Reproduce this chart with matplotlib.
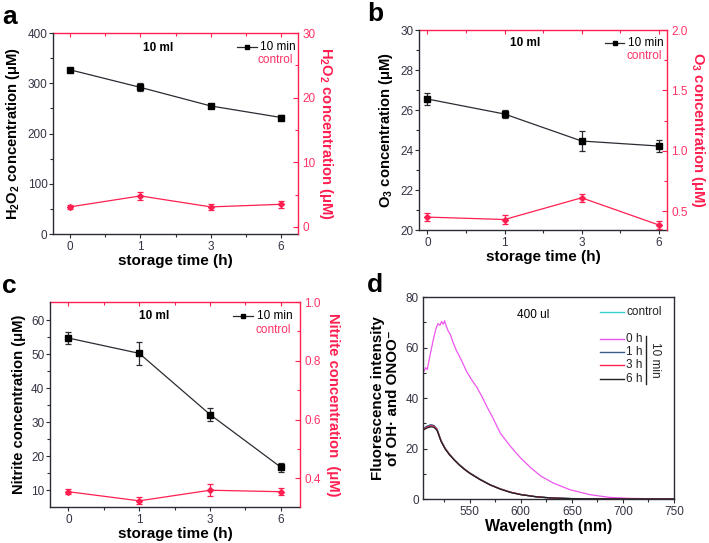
import matplotlib
matplotlib.use("Agg")
import matplotlib.pyplot as plt
from matplotlib.lines import Line2D

plt.rcParams['font.family'] = ['Liberation Sans', 'DejaVu Sans']
plt.rcParams['mathtext.fontset'] = 'custom'
plt.rcParams['mathtext.rm'] = 'Liberation Sans'
plt.rcParams['mathtext.bf'] = 'Liberation Sans:bold'
plt.rcParams['mathtext.it'] = 'Liberation Sans:italic'

# ---------------- data ----------------
time_labels = ['0', '1', '3', '6']

h2o2_10min = [327, 292, 255, 232]
h2o2_10min_err = [4, 8, 4, 4]
h2o2_control = [3.1, 4.8, 3.1, 3.5]
h2o2_control_err = [0.3, 0.6, 0.5, 0.5]

o3_10min = [26.55, 25.8, 24.45, 24.2]
o3_10min_err = [0.28, 0.22, 0.52, 0.32]
o3_control = [0.45, 0.43, 0.61, 0.385]
o3_control_err = [0.03, 0.035, 0.035, 0.03]

nitrite_10min = [54.7, 50.2, 32.2, 16.7]
nitrite_10min_err = [1.7, 3.3, 2.0, 1.3]
nitrite_control = [0.355, 0.324, 0.36, 0.355]
nitrite_control_err = [0.008, 0.012, 0.02, 0.012]

wl_0h = [505, 507, 508.5, 511, 514, 517, 519, 521, 522.5, 524, 525.5, 527, 529, 531,
         534, 537, 540, 543, 547, 552, 557, 562, 567, 572, 580, 590, 600, 610, 620,
         632, 648, 668, 687, 707, 730, 750]
fl_0h = [50.5, 52.0, 51.3, 56.5, 62.4, 67.5, 69.5, 68.8, 70.3, 69.2, 70.6, 68.5, 66.5,
         65.2, 61.8, 58.8, 56.5, 54.0, 50.5, 47.2, 44.3, 40.6, 36.5, 32.7, 26.1, 20.8,
         16.2, 12.3, 9.0, 6.3, 3.7, 1.7, 0.65, 0.25, 0.1, 0.05]

wl_low = [505, 508, 512, 515, 518, 522, 526, 530, 535, 540, 545, 550, 560, 570, 580,
          590, 600, 615, 630, 650, 700, 750]
fl_control = [27.8, 28.6, 29.3, 29.0, 27.6, 23.2, 20.1, 17.9, 15.6, 13.6, 11.9, 10.4,
              7.9, 5.7, 4.0, 2.7, 1.8, 0.9, 0.4, 0.15, 0.03, 0.0]
fl_1h = [27.9, 28.8, 29.4, 29.1, 27.7, 23.0, 20.0, 17.8, 15.5, 13.5, 11.8, 10.3,
         7.8, 5.6, 4.0, 2.7, 1.8, 0.9, 0.4, 0.15, 0.03, 0.0]
fl_3h = [27.6, 28.4, 29.0, 28.8, 27.5, 23.0, 20.0, 17.8, 15.5, 13.5, 11.8, 10.3,
         7.8, 5.6, 4.0, 2.7, 1.8, 0.9, 0.4, 0.15, 0.03, 0.0]
fl_6h = [27.4, 28.1, 28.6, 28.4, 27.2, 22.8, 19.8, 17.6, 15.4, 13.4, 11.7, 10.2,
         7.7, 5.6, 3.9, 2.6, 1.7, 0.9, 0.4, 0.15, 0.03, 0.0]

# ---------------- style ----------------
RED = '#ff1f50'
REDT = '#ff3366'
DARK = '#2b2b33'
TICKC = '#333344'
LABFS = 10.6

fig = plt.figure(figsize=(7.09, 5.43), dpi=100)


def two_axis_panel(rect, xlim, black, black_err, red, red_err, ylim_l, yticks_l,
                   ylim_r, yticks_r, yminor_r, ylabel_l, ylabel_r, ml, legpos):
    ax = fig.add_axes(rect)
    x = list(range(len(time_labels)))
    ax.errorbar(x, black, yerr=black_err, color=DARK, lw=0.9, marker='s', ms=4,
                mfc='black', mec='black', ecolor=DARK, elinewidth=0.9, capsize=2, capthick=0.9)
    ax.set_xlim(*xlim)
    ax.set_ylim(*ylim_l)
    ax.set_yticks(yticks_l)
    ax.set_yticks([(a + b) / 2 for a, b in zip(yticks_l[:-1], yticks_l[1:])], minor=True)
    ax.set_xticks(x)
    ax.set_xticklabels(time_labels)
    ax.set_xticks([0.5, 1.5, 2.5], minor=True)
    ax.tick_params(axis='both', which='major', direction='out', length=3, width=0.8,
                   labelsize=8.5, labelcolor=TICKC, color=DARK, pad=2)
    ax.tick_params(axis='y', which='major', pad=1)
    ax.tick_params(axis='both', which='minor', direction='out', length=2, width=0.8, color=DARK)
    ax.spines['top'].set_visible(False)
    ax.spines['right'].set_visible(False)
    for s in ('left', 'bottom'):
        ax.spines[s].set_color(DARK)
        ax.spines[s].set_linewidth(1.0)
    ax.set_xlabel('storage time (h)', fontsize=LABFS + 0.4, fontweight='bold', labelpad=1)
    ax.set_ylabel(ylabel_l, fontsize=LABFS, fontweight='bold', labelpad=4)

    ax2 = ax.twinx()
    ax2.errorbar(x, red, yerr=red_err, color=RED, lw=0.9, marker='D', ms=3,
                 mfc=RED, mec=RED, ecolor=RED, elinewidth=0.9, capsize=2, capthick=0.9)
    ax2.set_ylim(*ylim_r)
    ax2.set_yticks(yticks_r)
    ax2.set_yticklabels([('%g' % v) if not isinstance(v, float) else ('%.1f' % v) for v in yticks_r])
    ax2.set_yticks(yminor_r, minor=True)
    ax2.tick_params(axis='y', which='major', direction='in', length=3.5, width=0.8,
                    labelsize=8.5, labelcolor=REDT, color=RED, pad=3)
    ax2.tick_params(axis='y', which='minor', direction='in', length=2, width=0.8, color=RED)
    ax2.spines['right'].set_color(RED)
    ax2.spines['right'].set_linewidth(1.0)
    ax2.spines['top'].set_visible(False)
    ax2.spines['left'].set_visible(False)
    ax2.spines['bottom'].set_visible(False)
    ax2.set_ylabel(ylabel_r, fontsize=LABFS, fontweight='bold', color=RED, rotation=270, labelpad=14)

    sec = ax.secondary_xaxis('top')
    sec.set_xticks(x)
    sec.set_xticks([0.5, 1.5, 2.5], minor=True)
    sec.tick_params(axis='x', which='both', direction='in', length=3, width=0.8,
                    color=RED, labeltop=False)
    sec.tick_params(axis='x', which='minor', length=2)
    sec.spines['top'].set_color(RED)
    sec.spines['top'].set_linewidth(1.0)

    ax.text(ml[0], ml[1], '10 ml', transform=ax.transAxes, fontsize=8.5,
            fontweight='bold', ha='center', va='center', color='black')
    lx, ly = legpos
    ax.add_line(Line2D([lx - 0.145, lx - 0.065], [ly, ly], transform=ax.transAxes,
                       color=DARK, lw=0.9, clip_on=False))
    ax.plot([lx - 0.105], [ly], transform=ax.transAxes, marker='s', ms=3.5,
            color='black', clip_on=False)
    ax.text(lx - 0.05, ly, '10 min', transform=ax.transAxes, fontsize=8.5,
            ha='left', va='center', color='black')
    ax.text(lx + 0.085, ly - 0.065, 'control', transform=ax.transAxes, fontsize=8.5,
            ha='right', va='center', color=REDT)
    return ax


axa = two_axis_panel([0.0748, 0.569, 0.3456, 0.370], (-0.24, 3.24),
                     h2o2_10min, h2o2_10min_err, h2o2_control, h2o2_control_err,
                     (0, 400), [0, 100, 200, 300, 400],
                     (-1.1, 30), [0, 10, 20, 30], [5, 15, 25],
                     'H$_\\mathbf{2}$O$_\\mathbf{2}$ concentration (μM)',
                     'H$_\\mathbf{2}$O$_\\mathbf{2}$ concentration (μM)',
                     (0.43, 0.925), (0.896, 0.93))

axb = two_axis_panel([0.591, 0.5764, 0.350, 0.3683], (-0.11, 3.11),
                     o3_10min, o3_10min_err, o3_control, o3_control_err,
                     (20, 30), [20, 22, 24, 26, 28, 30],
                     (0.343, 2.0), [0.5, 1.0, 1.5, 2.0], [0.75, 1.25, 1.75],
                     'O$_\\mathbf{3}$ concentration (μM)',
                     'O$_\\mathbf{3}$ concentration (μM)',
                     (0.427, 0.935), (0.893, 0.935))

axc = two_axis_panel([0.0705, 0.0663, 0.3526, 0.3775], (-0.26, 3.27),
                     nitrite_10min, nitrite_10min_err, nitrite_control, nitrite_control_err,
                     (5, 65.3), [10, 20, 30, 40, 50, 60],
                     (0.303, 1.0), [0.4, 0.6, 0.8, 1.0], [0.5, 0.7, 0.9],
                     'Nitrite concentration (μM)',
                     'Nitrite concentration  (μM)',
                     (0.416, 0.93), (0.878, 0.93))

# ---------------- panel d ----------------
axd = fig.add_axes([0.5966, 0.081, 0.354, 0.372])
axd.plot(wl_low, fl_control, color='#35d0c8', lw=1.0)
axd.plot(wl_0h, fl_0h, color='#ee55ee', lw=0.9)
axd.plot(wl_low, fl_1h, color='#3c5c88', lw=1.0)
axd.plot(wl_low, fl_3h, color=RED, lw=0.9)
axd.plot(wl_low, fl_6h, color='#222222', lw=0.9)
axd.set_xlim(504.3, 750)
axd.set_ylim(0, 80)
axd.set_xticks([550, 600, 650, 700, 750])
axd.set_xticks([525, 575, 625, 675, 725], minor=True)
axd.set_yticks([0, 20, 40, 60, 80])
axd.set_yticks([10, 30, 50, 70], minor=True)
axd.tick_params(axis='both', which='major', direction='out', length=3, width=0.8,
                labelsize=8.5, labelcolor=TICKC, color=DARK, pad=2)
axd.tick_params(axis='y', which='both', direction='in', pad=3)
axd.tick_params(axis='both', which='minor', length=2, width=0.8, color=DARK)
for s in axd.spines.values():
    s.set_color(DARK)
    s.set_linewidth(1.0)
axd.set_xlabel('Wavelength (nm)', fontsize=LABFS + 0.8, fontweight='bold', labelpad=1)
axd.set_ylabel('Fluorescence intensity\nof OH· and ONOO⁻', fontsize=LABFS + 0.3,
               fontweight='bold', labelpad=4, linespacing=1.05)
axd.text(0.44, 0.91, '400 ul', transform=axd.transAxes, fontsize=8.5,
         ha='center', va='center')

leg_items = [('control', '#35d0c8', 0.925), ('0 h', '#ee55ee', 0.79),
             ('1 h', '#3c5c88', 0.727), ('3 h', RED, 0.662), ('6 h', '#222222', 0.595)]
for lab, col, yy in leg_items:
    axd.add_line(Line2D([0.704, 0.80], [yy, yy], transform=axd.transAxes, color=col,
                        lw=1.0))
    axd.text(0.81, yy, lab, transform=axd.transAxes, fontsize=8.5, ha='left',
             va='center', color='#222222')
axd.add_line(Line2D([0.89, 0.89], [0.57, 0.805], transform=axd.transAxes,
                    color='#222222', lw=1.0))
axd.text(0.925, 0.69, '10 min', transform=axd.transAxes, fontsize=8.5,
         rotation=270, ha='center', va='center', color='#222222')

# panel letters
for lab, (px, py) in zip('abcd', [(2, 5), (367, 2), (2, 274), (367, 273)]):
    fig.text(px / 709, 1 - py / 543, lab, fontsize=19, fontweight='bold',
             ha='left', va='top')

fig.savefig('out.png', dpi=100)
